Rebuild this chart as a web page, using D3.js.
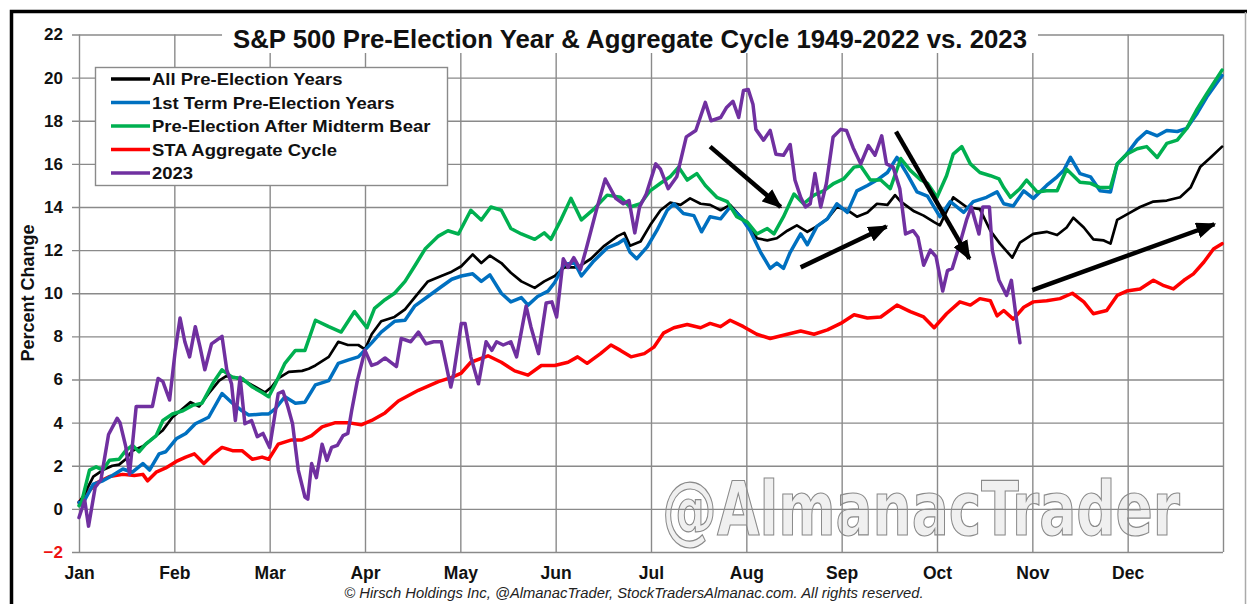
<!DOCTYPE html>
<html>
<head>
<meta charset="utf-8">
<script src="https://cdn.jsdelivr.net/npm/d3@7"></script>
<style>
  body { margin: 0; background: #fff; }
  svg { display: block; font-family: "Liberation Sans", Arial, sans-serif; }
</style>
</head>
<body>
<div id="chart"></div>
<script>
// Month labels and y ticks
var months = ["Jan", "Feb", "Mar", "Apr", "May", "Jun", "Jul", "Aug", "Sep", "Oct", "Nov", "Dec"];
var yTicks = [-2, 0, 2, 4, 6, 8, 10, 12, 14, 16, 18, 20, 22];

// Series as [month of year, percent change]
var allPreElection = [[0,0.3],[0.04,0.55],[0.15,1.5],[0.25,1.8],[0.35,2.0],[0.42,2.05],[0.49,2.3],[0.56,2.7],[0.67,2.9],[0.77,3.25],[0.88,3.65],[0.98,4.25],[1.09,4.65],[1.17,4.95],[1.26,4.75],[1.36,5.35],[1.47,5.95],[1.54,6.15],[1.64,6.1],[1.75,5.9],[1.85,5.65],[1.95,5.4],[2.02,5.65],[2.09,6.05],[2.2,6.35],[2.34,6.4],[2.41,6.5],[2.48,6.65],[2.62,7.05],[2.72,7.75],[2.82,7.6],[2.93,7.6],[3.0,7.4],[3.07,8.1],[3.17,8.7],[3.31,8.9],[3.42,9.25],[3.52,9.8],[3.66,10.55],[3.8,10.8],[3.91,11.0],[4.01,11.25],[4.13,11.8],[4.22,11.4],[4.31,11.75],[4.43,11.4],[4.53,10.95],[4.64,10.55],[4.78,10.25],[4.88,10.55],[4.99,10.8],[5.09,11.2],[5.23,11.2],[5.37,11.6],[5.51,12.2],[5.65,12.65],[5.72,12.8],[5.78,12.2],[5.89,12.4],[5.99,13.15],[6.1,13.85],[6.2,14.2],[6.31,14.1],[6.41,14.4],[6.52,14.15],[6.62,14.1],[6.73,13.85],[6.83,14.1],[6.94,13.55],[7.04,13.1],[7.11,12.55],[7.22,12.45],[7.32,12.55],[7.43,12.9],[7.53,13.15],[7.64,12.85],[7.74,13.1],[7.85,13.45],[7.95,14.0],[8.06,13.85],[8.16,13.55],[8.27,13.75],[8.37,14.15],[8.48,14.1],[8.56,14.55],[8.62,14.25],[8.76,13.8],[8.86,13.6],[8.97,13.3],[9.03,13.15],[9.17,14.45],[9.31,14.0],[9.45,13.9],[9.56,12.9],[9.66,12.3],[9.79,11.65],[9.87,12.35],[10.01,12.75],[10.15,12.85],[10.26,12.7],[10.36,13.05],[10.43,13.5],[10.54,13.05],[10.64,12.5],[10.75,12.45],[10.82,12.3],[10.89,13.4],[11.03,13.75],[11.13,14.0],[11.27,14.25],[11.41,14.3],[11.55,14.45],[11.66,14.9],[11.76,15.85],[11.87,16.3],[11.99,16.8]];

var firstTerm = [[0,0.3],[0.04,0.25],[0.15,1.15],[0.25,1.3],[0.35,1.55],[0.46,1.85],[0.56,1.7],[0.67,2.1],[0.74,1.8],[0.84,2.55],[0.91,2.65],[1.02,3.25],[1.12,3.5],[1.22,3.95],[1.36,4.25],[1.5,5.35],[1.61,4.9],[1.71,4.55],[1.78,4.35],[1.92,4.4],[1.99,4.4],[2.06,4.65],[2.16,5.2],[2.27,4.9],[2.37,4.95],[2.48,5.75],[2.62,5.95],[2.72,6.75],[2.82,6.9],[2.93,7.05],[3.07,7.7],[3.17,8.2],[3.31,8.7],[3.42,8.75],[3.52,9.4],[3.66,9.85],[3.8,10.3],[3.91,10.65],[4.01,10.8],[4.13,10.9],[4.22,10.55],[4.31,10.85],[4.43,10.0],[4.53,9.6],[4.64,9.8],[4.71,9.45],[4.81,9.85],[4.92,10.1],[4.99,10.5],[5.09,11.35],[5.2,11.4],[5.27,10.8],[5.4,11.5],[5.54,12.1],[5.65,12.3],[5.72,12.5],[5.78,11.9],[5.85,11.6],[5.96,12.15],[6.06,12.9],[6.17,13.85],[6.24,14.15],[6.34,13.7],[6.45,13.6],[6.53,12.85],[6.62,13.55],[6.73,13.45],[6.83,14.0],[6.94,13.55],[7.04,12.9],[7.15,11.9],[7.25,11.15],[7.32,11.4],[7.39,11.15],[7.46,11.9],[7.57,12.75],[7.64,12.25],[7.74,13.1],[7.85,13.45],[7.95,14.15],[8.06,13.75],[8.16,14.75],[8.27,15.0],[8.37,15.25],[8.48,15.6],[8.58,16.3],[8.69,15.5],[8.79,14.7],[8.9,14.5],[9.03,13.55],[9.14,14.25],[9.28,13.75],[9.38,14.25],[9.52,14.45],[9.63,14.7],[9.7,14.15],[9.8,14.05],[9.91,14.75],[10.01,14.4],[10.15,15.0],[10.26,15.4],[10.33,15.7],[10.4,16.3],[10.5,15.55],[10.61,15.4],[10.71,14.75],[10.82,14.7],[10.89,16.0],[10.99,16.45],[11.1,17.1],[11.2,17.5],[11.31,17.3],[11.41,17.55],[11.52,17.5],[11.62,17.65],[11.73,18.35],[11.83,19.1],[11.99,20.1]];

var afterMidtermBear = [[0,0.15],[0.02,0.2],[0.11,1.8],[0.18,1.95],[0.25,1.8],[0.32,2.25],[0.42,2.3],[0.49,2.7],[0.56,2.95],[0.63,2.65],[0.7,3.0],[0.81,3.4],[0.88,4.1],[0.98,4.4],[1.09,4.55],[1.19,4.8],[1.29,4.9],[1.4,5.8],[1.5,6.45],[1.61,6.1],[1.71,6.05],[1.82,5.65],[1.92,5.4],[1.99,5.2],[2.06,5.8],[2.16,6.75],[2.27,7.35],[2.37,7.35],[2.48,8.75],[2.62,8.45],[2.75,8.2],[2.89,9.15],[3.02,8.4],[3.1,9.3],[3.21,9.7],[3.31,10.0],[3.42,10.55],[3.52,11.25],[3.63,12.05],[3.77,12.65],[3.87,12.9],[3.98,12.75],[4.11,13.85],[4.22,13.4],[4.32,14.0],[4.43,13.85],[4.53,13.0],[4.64,12.75],[4.78,12.5],[4.88,12.8],[4.95,12.5],[5.06,13.45],[5.16,14.4],[5.27,13.4],[5.4,13.9],[5.54,14.55],[5.68,14.45],[5.78,14.0],[5.89,14.15],[5.99,14.75],[6.1,15.1],[6.2,15.4],[6.29,15.85],[6.38,15.25],[6.48,15.55],[6.57,15.0],[6.69,14.45],[6.8,14.25],[6.9,13.55],[7.01,13.3],[7.11,12.75],[7.22,13.0],[7.29,12.75],[7.39,13.55],[7.5,14.6],[7.6,14.15],[7.71,14.55],[7.81,14.75],[7.92,15.1],[8.02,15.3],[8.13,15.85],[8.2,15.9],[8.3,15.25],[8.41,15.25],[8.51,14.85],[8.62,16.25],[8.72,15.7],[8.83,15.25],[8.9,15.1],[9.0,14.45],[9.1,15.45],[9.17,16.45],[9.26,16.8],[9.35,16.0],[9.45,15.6],[9.56,15.45],[9.65,15.3],[9.7,14.9],[9.77,14.45],[9.87,14.85],[9.94,15.25],[10.05,14.7],[10.15,14.75],[10.26,14.75],[10.36,15.75],[10.5,15.15],[10.61,15.1],[10.71,14.9],[10.82,14.9],[10.89,16.0],[10.99,16.45],[11.1,16.7],[11.2,16.8],[11.31,16.3],[11.41,16.95],[11.52,17.1],[11.62,17.65],[11.73,18.55],[11.83,19.25],[11.99,20.35]];

var staAggregate = [[0,0.3],[0.02,0.4],[0.18,1.2],[0.32,1.5],[0.46,1.6],[0.58,1.55],[0.67,1.6],[0.72,1.3],[0.81,1.7],[0.91,1.9],[1.02,2.2],[1.12,2.4],[1.21,2.55],[1.31,2.1],[1.4,2.5],[1.5,2.85],[1.61,2.7],[1.71,2.7],[1.82,2.3],[1.92,2.4],[1.99,2.3],[2.09,3.0],[2.23,3.2],[2.34,3.2],[2.44,3.4],[2.55,3.8],[2.69,4.0],[2.82,4.0],[2.96,3.9],[3.07,4.1],[3.21,4.45],[3.35,5.0],[3.56,5.5],[3.77,5.9],[3.91,6.1],[4.01,6.3],[4.11,6.8],[4.29,7.1],[4.43,6.8],[4.57,6.4],[4.71,6.2],[4.85,6.65],[4.99,6.65],[5.13,6.8],[5.23,7.05],[5.33,6.75],[5.47,7.2],[5.58,7.6],[5.68,7.35],[5.79,7.05],[5.93,7.2],[6.03,7.5],[6.13,8.15],[6.24,8.4],[6.38,8.55],[6.52,8.4],[6.62,8.6],[6.73,8.45],[6.83,8.75],[6.97,8.45],[7.11,8.1],[7.25,7.9],[7.43,8.1],[7.57,8.25],[7.71,8.1],[7.85,8.3],[7.99,8.6],[8.13,9.0],[8.27,8.85],[8.41,8.9],[8.58,9.45],[8.72,9.15],[8.86,8.9],[8.97,8.4],[9.1,9.05],[9.24,9.6],[9.35,9.45],[9.45,9.75],[9.56,9.65],[9.63,8.95],[9.7,9.2],[9.8,8.8],[9.91,9.35],[10.01,9.6],[10.15,9.65],[10.29,9.75],[10.42,10.0],[10.54,9.6],[10.64,9.05],[10.78,9.2],[10.89,9.9],[10.99,10.1],[11.13,10.2],[11.27,10.6],[11.38,10.35],[11.48,10.2],[11.59,10.6],[11.69,10.9],[11.8,11.45],[11.9,12.05],[11.99,12.3]];

var year2023 = [[0,-0.4],[0.06,0.4],[0.1,-0.8],[0.17,1.0],[0.23,1.35],[0.31,3.45],[0.4,4.2],[0.43,4.0],[0.49,2.9],[0.53,1.6],[0.6,4.75],[0.66,4.75],[0.77,4.75],[0.83,6.05],[0.88,5.9],[0.95,5.05],[1.01,7.35],[1.06,8.85],[1.11,7.75],[1.16,7.05],[1.22,8.45],[1.27,7.5],[1.32,6.45],[1.39,7.65],[1.5,8.0],[1.55,6.45],[1.6,5.8],[1.64,4.1],[1.69,6.1],[1.74,3.95],[1.81,4.1],[1.87,3.35],[1.93,3.5],[2.0,2.85],[2.09,5.35],[2.14,5.45],[2.19,4.75],[2.24,3.95],[2.3,1.8],[2.37,0.55],[2.4,0.45],[2.44,2.1],[2.49,1.45],[2.55,3.0],[2.6,2.25],[2.65,2.85],[2.71,2.95],[2.77,3.4],[2.82,3.5],[2.86,4.55],[2.92,5.95],[3.0,7.35],[3.07,6.65],[3.13,6.75],[3.21,7.0],[3.33,6.6],[3.38,7.9],[3.48,7.75],[3.56,8.2],[3.64,7.65],[3.72,7.75],[3.8,7.75],[3.9,5.65],[3.93,6.25],[4.01,8.6],[4.05,8.6],[4.11,7.05],[4.19,5.8],[4.27,7.75],[4.33,7.35],[4.38,7.75],[4.45,7.6],[4.53,7.75],[4.59,7.05],[4.69,9.4],[4.74,8.45],[4.82,7.2],[4.9,9.55],[4.96,9.6],[5.01,8.9],[5.08,11.6],[5.13,11.2],[5.19,11.65],[5.26,11.1],[5.32,12.05],[5.43,13.9],[5.52,15.3],[5.63,14.4],[5.71,14.15],[5.77,14.3],[5.83,12.8],[5.88,14.0],[5.95,14.6],[6.05,16.0],[6.1,15.75],[6.18,14.85],[6.27,15.4],[6.37,17.25],[6.47,17.55],[6.57,18.85],[6.63,18.0],[6.73,18.15],[6.79,18.6],[6.86,18.9],[6.92,18.15],[6.97,19.4],[7.02,19.45],[7.07,18.75],[7.1,17.6],[7.18,17.1],[7.25,17.55],[7.31,16.45],[7.39,16.4],[7.46,16.9],[7.51,15.25],[7.57,14.45],[7.62,14.0],[7.67,14.15],[7.72,15.55],[7.78,14.0],[7.84,15.1],[7.91,17.25],[7.99,17.6],[8.05,17.55],[8.12,16.75],[8.2,16.0],[8.28,16.85],[8.35,16.4],[8.42,17.3],[8.47,16.0],[8.54,15.85],[8.61,14.85],[8.67,12.75],[8.75,12.9],[8.8,12.6],[8.86,11.3],[8.93,12.0],[8.99,11.7],[9.06,10.1],[9.11,11.05],[9.16,11.15],[9.23,12.15],[9.31,13.4],[9.36,14.0],[9.44,12.75],[9.48,14.0],[9.55,14.0],[9.58,12.0],[9.65,10.6],[9.73,9.9],[9.78,10.6],[9.83,8.9],[9.87,7.7]];

var seriesNames = ["All Pre-Election Years", "1st Term Pre-Election Years", "Pre-Election After Midterm Bear", "STA Aggregate Cycle", "2023"];
var seriesColors = ["#000000", "#0070C0", "#00B050", "#FF0000", "#7030A0"];
var seriesData = [allPreElection, firstTerm, afterMidtermBear, staAggregate, year2023];

// Annotation arrows, [month, value] start and end
var arrows = [
    [[6.62, 16.8], [7.36, 14.0]],
    [[7.57, 11.2], [8.47, 13.1]],
    [[8.57, 17.5], [9.34, 11.6]],
    [[10.0, 10.15], [11.91, 13.2]]
];

var W = 1247, H = 604;
var margin = {top: 34.5, right: 24, bottom: 52, left: 79};
var FONT = "'Liberation Sans', Arial, sans-serif";

var svg = d3.select("#chart").append("svg")
    .attr("width", W)
    .attr("height", H);

var x = d3.scaleLinear().domain([0, 12]).range([margin.left, W - margin.right]);
var y = d3.scaleLinear().domain([-2, 22]).range([H - margin.bottom, margin.top]);

// Outer frame
svg.append("path")
    .attr("d", "M11.5," + H + "V11.5H" + W)
    .attr("fill", "none")
    .attr("stroke", "#000")
    .attr("stroke-width", 3.5);
svg.append("line")
    .attr("x1", W - 1.5).attr("x2", W - 1.5)
    .attr("y1", 12).attr("y2", H)
    .attr("stroke", "#aaa")
    .attr("stroke-width", 1.5);

// Watermark (sits under the grid), squeezed sideways
var wm = svg.append("text")
    .attr("font-family", "'DejaVu Sans Condensed', 'DejaVu Sans', sans-serif")
    .attr("font-weight", "bold")
    .attr("font-size", 74)
    .attr("fill", "#f0f0f0")
    .attr("stroke", "#8a8a8a")
    .attr("stroke-width", 1.2)
    .text("@AlmanacTrader");
var ww = wm.node().getComputedTextLength();
wm.attr("transform", "translate(662,535) scale(" + (518 / ww) + ",1)");

// Y axis with gridlines
var yAxis = d3.axisLeft(y)
    .tickValues(yTicks)
    .tickSize(-(x.range()[1] - x.range()[0] + 7))
    .tickPadding(9)
    .tickFormat(function (d) { return d < 0 ? "\u2212" + Math.abs(d) : d; });

var yG = svg.append("g")
    .attr("transform", "translate(" + (margin.left - 7) + ",0)")
    .call(yAxis);
yG.select(".domain").remove();
yG.selectAll("line").attr("stroke", "#8a8a8a").attr("stroke-width", 1.4);
yG.selectAll("text")
    .attr("font-size", 17)
    .attr("font-weight", "bold")
    .attr("font-family", FONT)
    .attr("fill", function (d) { return d < 0 ? "#ee1111" : "#111"; });

// X axis with month gridlines
var xAxis = d3.axisBottom(x)
    .tickValues(d3.range(0, 13))
    .tickSize(-(y.range()[0] - y.range()[1]))
    .tickPadding(15)
    .tickFormat(function (d) { return months[d] || ""; });

var xG = svg.append("g")
    .attr("transform", "translate(0," + y.range()[0] + ")")
    .call(xAxis);
xG.select(".domain").remove();
xG.selectAll("line").attr("stroke", "#8a8a8a").attr("stroke-width", 1.4);
xG.selectAll("text")
    .attr("font-size", 17.5)
    .attr("font-weight", "bold")
    .attr("font-family", FONT)
    .attr("fill", "#111");

// Y axis title
svg.append("text")
    .attr("transform", "translate(34," + 293 + ") rotate(-90)")
    .attr("text-anchor", "middle")
    .attr("font-size", 18)
    .attr("font-weight", "bold")
    .attr("fill", "#111")
    .text("Percent Change");

// Lines
var line = d3.line()
    .x(function (d) { return x(d[0]); })
    .y(function (d) { return y(d[1]); });

var widths = [2.7, 3.5, 3.5, 3.5, 3.5];
var order = [3, 0, 1, 2, 4];
order.forEach(function (i) {
    svg.append("path")
        .datum(seriesData[i])
        .attr("d", line)
        .attr("fill", "none")
        .attr("stroke", seriesColors[i])
        .attr("stroke-width", widths[i])
        .attr("stroke-linejoin", "round")
        .attr("stroke-linecap", "round");
});

// Arrows
svg.append("defs").append("marker")
    .attr("id", "head")
    .attr("markerUnits", "userSpaceOnUse")
    .attr("viewBox", "0 0 20 16")
    .attr("refX", 18).attr("refY", 8)
    .attr("markerWidth", 20).attr("markerHeight", 16)
    .attr("orient", "auto")
    .append("path")
    .attr("d", "M0,0L20,8L0,16z")
    .attr("fill", "#000");

svg.selectAll(".arrow")
    .data(arrows)
    .enter().append("line")
    .attr("class", "arrow")
    .attr("x1", function (d) { return x(d[0][0]); })
    .attr("y1", function (d) { return y(d[0][1]); })
    .attr("x2", function (d) { return x(d[1][0]); })
    .attr("y2", function (d) { return y(d[1][1]); })
    .attr("stroke", "#000")
    .attr("stroke-width", 4.5)
    .attr("marker-end", "url(#head)");

// Title with white box over the top gridline
var titleBox = svg.append("rect").attr("fill", "#fff");
var title = svg.append("text")
    .attr("x", 630)
    .attr("y", 48)
    .attr("text-anchor", "middle")
    .attr("font-size", 21)
    .attr("font-weight", "bold")
    .attr("fill", "#111")
    .text("S&P 500 Pre-Election Year & Aggregate Cycle 1949-2022 vs. 2023");
var tw = title.node().getComputedTextLength();
title.attr("font-size", 21 * 794 / tw);
var tb = title.node().getBBox();
titleBox
    .attr("x", tb.x - 11).attr("y", 27)
    .attr("width", tb.width + 22).attr("height", 26);

// Legend
var lg = svg.append("g");
lg.append("rect")
    .attr("x", 95.5).attr("y", 67.5)
    .attr("width", 352).attr("height", 118)
    .attr("fill", "#fff")
    .attr("stroke", "#8a8a8a")
    .attr("stroke-width", 1.4);
seriesNames.forEach(function (name, i) {
    var cy = 79 + i * 23.5;
    lg.append("line")
        .attr("x1", 111).attr("x2", 150)
        .attr("y1", cy).attr("y2", cy)
        .attr("stroke", seriesColors[i])
        .attr("stroke-width", 3.5);
    var t = lg.append("text")
        .attr("font-size", 16.5)
        .attr("font-weight", "bold")
        .attr("fill", "#111")
        .text(name);
    t.attr("transform", "translate(152," + (cy + 6) + ") scale(1.12,1)");
});

// Footer
var foot = svg.append("text")
    .attr("x", 634)
    .attr("y", 598)
    .attr("text-anchor", "middle")
    .attr("font-size", 13)
    .attr("font-style", "italic")
    .attr("fill", "#222")
    .text("\u00a9 Hirsch Holdings Inc, @AlmanacTrader, StockTradersAlmanac.com. All rights reserved.");
var fw = foot.node().getComputedTextLength();
foot.attr("font-size", 13 * 580 / fw);
</script>
</body>
</html>
